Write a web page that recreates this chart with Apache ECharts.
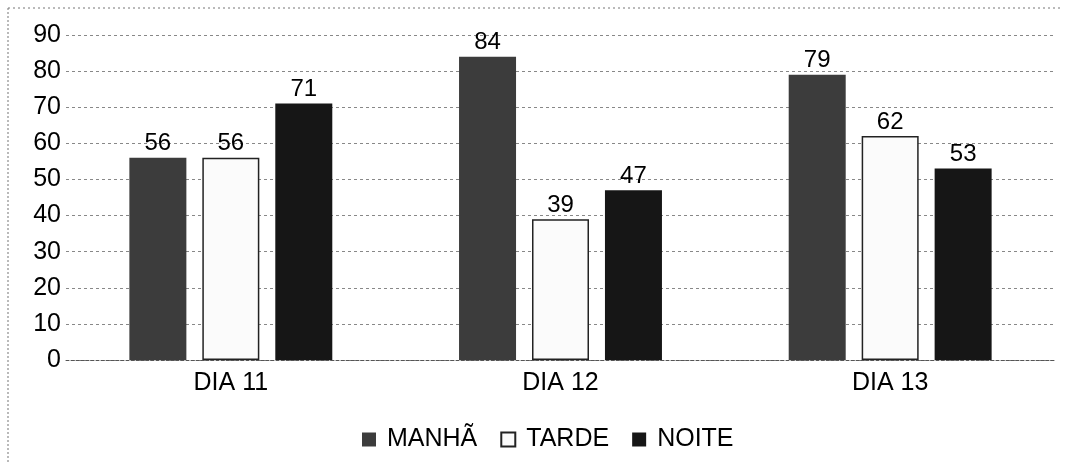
<!DOCTYPE html>
<html>
<head>
<meta charset="utf-8">
<script src="https://cdn.jsdelivr.net/npm/echarts@6/dist/echarts.min.js"></script>
<style>
  html, body { margin: 0; padding: 0; background: #fff; }
  #chart { width: 1065px; height: 463px; }
</style>
</head>
<body>
<div id="chart"></div>
<script>
  // dados do gráfico
  const dias = ['DIA 11', 'DIA 12', 'DIA 13'];
  const manha = [56, 84, 79];
  const tarde = [56, 39, 62];
  const noite = [71, 47, 53];

  const chart = echarts.init(document.getElementById('chart'));
  const fonte = 'Liberation Sans, Arial, sans-serif';
  const rotulo = { show: true, position: 'top', color: '#000', fontSize: 24, fontFamily: fonte, distance: 2 };

  const option = {
    backgroundColor: '#fff',
    animation: false,
    graphic: [
      { type: 'line', shape: { x1: 8, y1: 8, x2: 1060, y2: 8 }, style: { stroke: '#777', lineDash: [2, 3], lineWidth: 1 } },
      { type: 'line', shape: { x1: 8, y1: 8, x2: 8, y2: 463 }, style: { stroke: '#777', lineDash: [2, 2], lineWidth: 1 } }
    ],
    grid: { left: 66, right: 10, top: 35, bottom: 103 },
    legend: {
      top: 422,
      left: 357,
      icon: 'rect',
      itemWidth: 14,
      itemHeight: 14,
      itemGap: 23,
      textStyle: { fontSize: 25, fontFamily: fonte, color: '#000', padding: [0, 0, 0, 6] },
      data: ['MANHÃ', 'TARDE', 'NOITE']
    },
    xAxis: {
      type: 'category',
      data: dias,
      axisLine: { lineStyle: { color: '#555', type: [3, 2] } },
      axisTick: { show: false },
      axisLabel: { fontSize: 25, fontFamily: fonte, color: '#000', margin: 11 }
    },
    yAxis: {
      type: 'value',
      min: 0,
      max: 90,
      interval: 10,
      axisLine: { show: false },
      axisTick: { show: false },
      axisLabel: { fontSize: 25, fontFamily: fonte, color: '#000', margin: 5 },
      splitLine: { lineStyle: { color: '#888', type: [3, 3] } }
    },
    series: [
      {
        name: 'MANHÃ', type: 'bar', data: manha, barWidth: 57, barGap: '28%',
        itemStyle: { color: '#3c3c3c' }, label: rotulo
      },
      {
        name: 'TARDE', type: 'bar', data: tarde, barWidth: 57,
        itemStyle: { color: '#fbfbfb', borderColor: '#222', borderWidth: 1.5 }, label: rotulo
      },
      {
        name: 'NOITE', type: 'bar', data: noite, barWidth: 57,
        itemStyle: { color: '#161616' }, label: rotulo
      }
    ]
  };

  chart.setOption(option);
</script>
</body>
</html>
